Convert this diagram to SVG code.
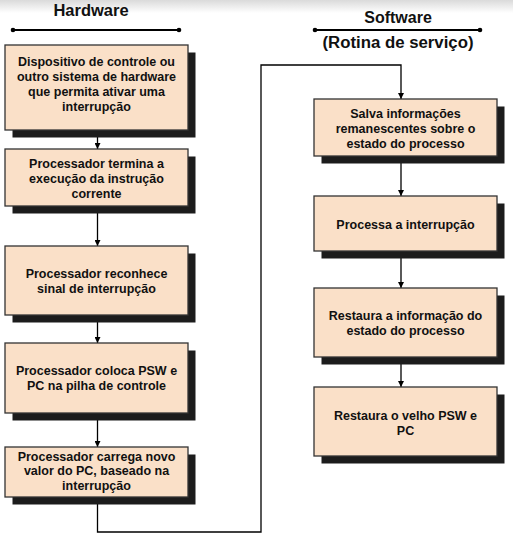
<svg xmlns="http://www.w3.org/2000/svg" width="513" height="537" viewBox="0 0 513 537">
<defs>
<linearGradient id="topfade" x1="0" y1="0" x2="0" y2="1">
<stop offset="0" stop-color="#dadada"/>
<stop offset="1" stop-color="#ffffff"/>
</linearGradient>
<marker id="arr" viewBox="0 0 10 10" refX="10" refY="5" markerWidth="6" markerHeight="6" markerUnits="userSpaceOnUse" orient="auto">
<path d="M0,0 L10,5 L0,10 z" fill="#000"/>
</marker>
<style>
.box{fill:#fae0c8;stroke:#333;stroke-width:1.3}
.shadow{fill:#1c1c1c}
.t{font-family:"Liberation Sans",Arial,sans-serif;font-weight:bold;font-size:12.5px;fill:#111;text-anchor:middle}
.h{font-family:"Liberation Sans",Arial,sans-serif;font-weight:bold;font-size:16.5px;fill:#111;text-anchor:middle}
.c{fill:none;stroke:#000;stroke-width:1.3}
.hl{stroke:#000;stroke-width:2}
</style>
</defs>
<rect x="0" y="0" width="513" height="537" fill="#fff"/>
<rect x="0" y="0" width="513" height="13" fill="url(#topfade)"/>

<g id="header-hardware">
<text class="h" x="91" y="16">Hardware</text>
<line class="hl" x1="13" y1="30" x2="179" y2="30"/>
<circle cx="13" cy="30" r="2.3"/>
<circle cx="179" cy="30" r="2.3"/>
</g>
<g id="header-software">
<text class="h" x="398" y="23" style="font-size:16px">Software</text>
<line class="hl" x1="315" y1="30" x2="480" y2="30"/>
<circle cx="315" cy="30" r="2.3"/>
<circle cx="480" cy="30" r="2.3"/>
<text class="h" x="398" y="48" style="font-size:16.8px">(Rotina de serviço)</text>
</g>

<g id="connectors">
<line class="c" x1="97.5" y1="130" x2="97.5" y2="149" marker-end="url(#arr)"/>
<line class="c" x1="97.5" y1="206" x2="97.5" y2="246" marker-end="url(#arr)"/>
<line class="c" x1="97.5" y1="315" x2="97.5" y2="343" marker-end="url(#arr)"/>
<line class="c" x1="97.5" y1="413" x2="97.5" y2="447" marker-end="url(#arr)"/>
<polyline class="c" points="97.5,497 97.5,532 261,532 261,65 401,65 401,99" marker-end="url(#arr)"/>
<line class="c" x1="401" y1="156" x2="401" y2="196" marker-end="url(#arr)"/>
<line class="c" x1="401" y1="251" x2="401" y2="288" marker-end="url(#arr)"/>
<line class="c" x1="401" y1="357" x2="401" y2="387" marker-end="url(#arr)"/>
</g>

<g id="h1">
<rect class="shadow" x="12.5" y="52.5" width="183" height="85"/>
<rect class="box" x="5" y="45" width="183" height="85"/>
<text class="t" x="96.5" y="66">Dispositivo de controle ou</text>
<text class="t" x="96.5" y="81">outro sistema de hardware</text>
<text class="t" x="96.5" y="96">que permita ativar uma</text>
<text class="t" x="96.5" y="111">interrupção</text>
</g>
<g id="h2">
<rect class="shadow" x="12.5" y="156.5" width="183" height="57"/>
<rect class="box" x="5" y="149" width="183" height="57"/>
<text class="t" x="96.5" y="167.5">Processador termina a</text>
<text class="t" x="96.5" y="182.5">execução da instrução</text>
<text class="t" x="96.5" y="197.5">corrente</text>
</g>
<g id="h3">
<rect class="shadow" x="12.5" y="253.5" width="183" height="69"/>
<rect class="box" x="5" y="246" width="183" height="69"/>
<text class="t" x="96.5" y="277.5">Processador reconhece</text>
<text class="t" x="96.5" y="292.5">sinal de interrupção</text>
</g>
<g id="h4">
<rect class="shadow" x="12.5" y="350.5" width="183" height="70"/>
<rect class="box" x="5" y="343" width="183" height="70"/>
<text class="t" x="96.5" y="375">Processador coloca PSW e</text>
<text class="t" x="96.5" y="390">PC na pilha de controle</text>
</g>
<g id="h5">
<rect class="shadow" x="12.5" y="454.5" width="183" height="50"/>
<rect class="box" x="5" y="447" width="183" height="50"/>
<text class="t" x="96.5" y="460.5">Processador carrega novo</text>
<text class="t" x="96.5" y="475">valor do PC, baseado na</text>
<text class="t" x="96.5" y="489.5">interrupção</text>
</g>

<g id="s1">
<rect class="shadow" x="321.5" y="106.5" width="183" height="57"/>
<rect class="box" x="314" y="99" width="183" height="57"/>
<text class="t" x="405.5" y="117.5">Salva informações</text>
<text class="t" x="405.5" y="132.5">remanescentes sobre o</text>
<text class="t" x="405.5" y="147.5">estado do processo</text>
</g>
<g id="s2">
<rect class="shadow" x="321.5" y="203.5" width="183" height="55"/>
<rect class="box" x="314" y="196" width="183" height="55"/>
<text class="t" x="405.5" y="229">Processa a interrupção</text>
</g>
<g id="s3">
<rect class="shadow" x="321.5" y="295.5" width="183" height="69"/>
<rect class="box" x="314" y="288" width="183" height="69"/>
<text class="t" x="405.5" y="319.5">Restaura a informação do</text>
<text class="t" x="405.5" y="334.5">estado do processo</text>
</g>
<g id="s4">
<rect class="shadow" x="321.5" y="394.5" width="183" height="69"/>
<rect class="box" x="314" y="387" width="183" height="69"/>
<text class="t" x="405.5" y="419.5">Restaura o velho PSW e</text>
<text class="t" x="405.5" y="434.5">PC</text>
</g>
</svg>
